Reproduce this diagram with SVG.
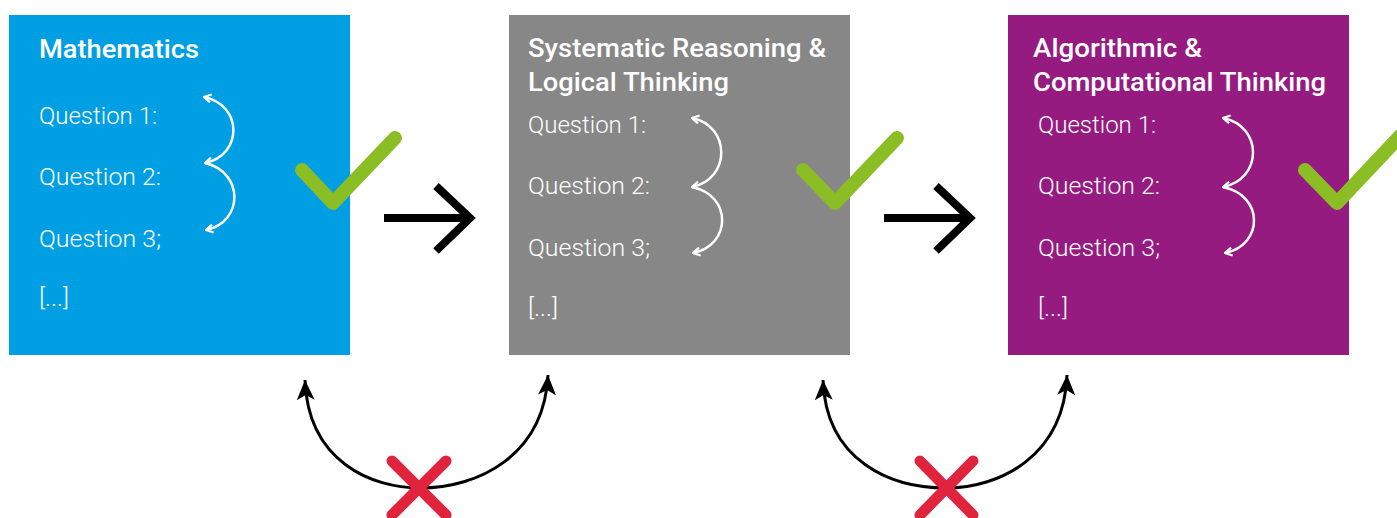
<svg xmlns="http://www.w3.org/2000/svg" width="1397" height="518" viewBox="0 0 1397 518">
<style>
.title{font-family:Roboto,"Liberation Sans",sans-serif;font-weight:500;font-size:26px;fill:#fff}
.q{font-family:Roboto,"Liberation Sans",sans-serif;font-weight:300;font-size:23px;fill:#fff}
.curl{fill:none;stroke:#fff;stroke-width:2.5}
.check{fill:none;stroke:#8BBD24;stroke-width:14;stroke-linecap:round;stroke-linejoin:round}
.arrow{fill:none;stroke:#000;stroke-width:8}
.arc{fill:none;stroke:#000;stroke-width:3}
.cross{fill:none;stroke:#E0243D;stroke-width:11;stroke-linecap:round}
</style>
<defs>
<marker id="chev" viewBox="0 0 10 10" refX="9" refY="5" markerWidth="10" markerHeight="10" markerUnits="userSpaceOnUse" orient="auto-start-reverse">
<path d="M2 1 L9 5 L2 9" fill="none" stroke="#fff" stroke-width="2.2"/>
</marker>
<marker id="tri" viewBox="0 0 20 18" refX="20" refY="9" markerWidth="20" markerHeight="18" markerUnits="userSpaceOnUse" orient="auto-start-reverse">
<path d="M0 0 L20 9 L0 18 L5 9 Z" fill="#000"/>
</marker>
</defs>

<g id="node-math">
<rect x="9" y="15" width="341" height="340" fill="#009FE3"/>
<text class="title" x="39" y="58" textLength="160" lengthAdjust="spacingAndGlyphs">Mathematics</text>
<text class="q" x="39" y="124" textLength="118" lengthAdjust="spacingAndGlyphs">Question 1:</text>
<text class="q" x="39" y="185" textLength="122" lengthAdjust="spacingAndGlyphs">Question 2:</text>
<text class="q" x="39" y="247" textLength="122" lengthAdjust="spacingAndGlyphs">Question 3;</text>
<text class="q" x="39" y="306" textLength="30" lengthAdjust="spacingAndGlyphs">[...]</text>
<path class="curl" d="M204 97 C243 105 243 155 205 163" marker-start="url(#chev)" marker-end="url(#chev)"/>
<path class="curl" d="M205 163 C244 172 244 222 206 230" marker-end="url(#chev)"/>
<path class="check" d="M302 170 L333 203 L395 138"/>
</g>

<g id="node-reasoning">
<rect x="509" y="15" width="341" height="340" fill="#878787"/>
<text class="title" x="528" y="57" textLength="298" lengthAdjust="spacingAndGlyphs">Systematic Reasoning &amp;</text>
<text class="title" x="528" y="91" textLength="201" lengthAdjust="spacingAndGlyphs">Logical Thinking</text>
<text class="q" x="528" y="133" textLength="118" lengthAdjust="spacingAndGlyphs">Question 1:</text>
<text class="q" x="528" y="194" textLength="122" lengthAdjust="spacingAndGlyphs">Question 2:</text>
<text class="q" x="528" y="256" textLength="122" lengthAdjust="spacingAndGlyphs">Question 3;</text>
<text class="q" x="528" y="316" textLength="30" lengthAdjust="spacingAndGlyphs">[...]</text>
<path class="curl" d="M692 118 C731 126 731 179 692 187" marker-start="url(#chev)" marker-end="url(#chev)"/>
<path class="curl" d="M692 187 C732 195 732 245 693 253" marker-end="url(#chev)"/>
<path class="check" d="M803 170 L835 203 L897 138"/>
</g>

<g id="node-algorithmic">
<rect x="1008" y="15" width="341" height="340" fill="#951B81"/>
<text class="title" x="1033" y="57" textLength="169" lengthAdjust="spacingAndGlyphs">Algorithmic &amp;</text>
<text class="title" x="1033" y="91" textLength="293" lengthAdjust="spacingAndGlyphs">Computational Thinking</text>
<text class="q" x="1038" y="133" textLength="118" lengthAdjust="spacingAndGlyphs">Question 1:</text>
<text class="q" x="1038" y="194" textLength="122" lengthAdjust="spacingAndGlyphs">Question 2:</text>
<text class="q" x="1038" y="256" textLength="122" lengthAdjust="spacingAndGlyphs">Question 3;</text>
<text class="q" x="1038" y="316" textLength="30" lengthAdjust="spacingAndGlyphs">[...]</text>
<path class="curl" d="M1223 118 C1263 126 1263 179 1223 187" marker-start="url(#chev)" marker-end="url(#chev)"/>
<path class="curl" d="M1223 187 C1264 195 1264 245 1225 253" marker-end="url(#chev)"/>
<path class="check" d="M1305 170 L1337 203 L1400 136"/>
</g>

<g id="connectors">
<path class="arrow" d="M384 218 L470 218 M436 186 L470 218 L436 251"/>
<path class="arrow" d="M884 218 L970 218 M936 186 L970 218 L936 251"/>
<path class="arc" d="M305 380 C308 462 372 488 420 488 C478 488 544 456 548 375" marker-start="url(#tri)" marker-end="url(#tri)"/>
<path class="arc" d="M823 380 C826 462 892 488 946 488 C1000 488 1064 456 1067 375" marker-start="url(#tri)" marker-end="url(#tri)"/>
<path class="cross" d="M392 461 L446 515 M446 461 L392 515"/>
<path class="cross" d="M920 461 L973 515 M973 461 L920 515"/>
</g>
</svg>
